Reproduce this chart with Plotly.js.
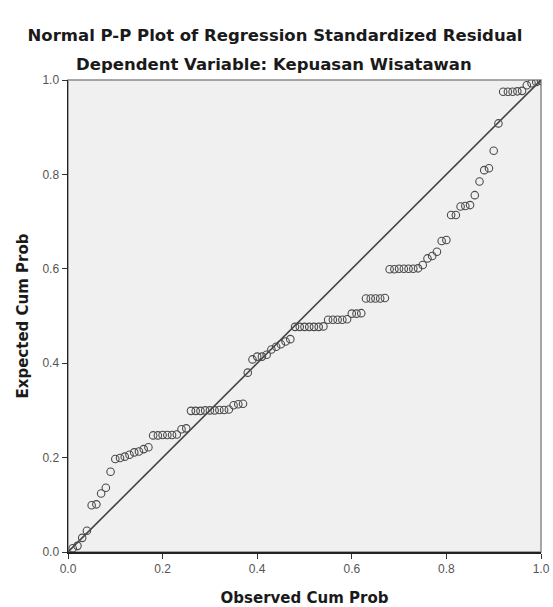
<!DOCTYPE html>
<html>
<head>
<meta charset="utf-8">
<script src="https://cdn.plot.ly/plotly-3.0.1.min.js"></script>
<style>
  html, body { margin: 0; padding: 0; background: #ffffff; }
  #chart { width: 553px; height: 607px; }
</style>
</head>
<body>
<div id="chart"></div>
<script>
// Observed cumulative probability (x)
const observedCumProb = [
  0.01, 0.02, 0.03, 0.04, 0.05, 0.06, 0.07, 0.08, 0.09, 0.10,
  0.11, 0.12, 0.13, 0.14, 0.15, 0.16, 0.17, 0.18, 0.19, 0.20,
  0.21, 0.22, 0.23, 0.24, 0.25, 0.26, 0.27, 0.28, 0.29, 0.30,
  0.31, 0.32, 0.33, 0.34, 0.35, 0.36, 0.37, 0.38, 0.39, 0.40,
  0.41, 0.42, 0.43, 0.44, 0.45, 0.46, 0.47, 0.48, 0.49, 0.50,
  0.51, 0.52, 0.53, 0.54, 0.55, 0.56, 0.57, 0.58, 0.59, 0.60,
  0.61, 0.62, 0.63, 0.64, 0.65, 0.66, 0.67, 0.68, 0.69, 0.70,
  0.71, 0.72, 0.73, 0.74, 0.75, 0.76, 0.77, 0.78, 0.79, 0.80,
  0.81, 0.82, 0.83, 0.84, 0.85, 0.86, 0.87, 0.88, 0.89, 0.90,
  0.91, 0.92, 0.93, 0.94, 0.95, 0.96, 0.97, 0.98, 0.99, 1.00
];
// Expected cumulative probability (y)
const expectedCumProb = [
  0.008, 0.013, 0.030, 0.045, 0.099, 0.101, 0.124, 0.136, 0.170, 0.197,
  0.199, 0.202, 0.206, 0.211, 0.213, 0.218, 0.222, 0.247, 0.247, 0.248,
  0.248, 0.248, 0.249, 0.260, 0.262, 0.299, 0.299, 0.299, 0.300, 0.300,
  0.300, 0.301, 0.301, 0.302, 0.311, 0.313, 0.314, 0.380, 0.408, 0.414,
  0.414, 0.418, 0.429, 0.435, 0.440, 0.446, 0.451, 0.477, 0.477, 0.477,
  0.477, 0.477, 0.477, 0.478, 0.492, 0.492, 0.492, 0.492, 0.493, 0.505,
  0.505, 0.506, 0.537, 0.537, 0.537, 0.537, 0.538, 0.599, 0.599, 0.600,
  0.600, 0.600, 0.600, 0.601, 0.608, 0.622, 0.627, 0.636, 0.659, 0.661,
  0.714, 0.714, 0.732, 0.733, 0.735, 0.756, 0.785, 0.809, 0.813, 0.850,
  0.908, 0.975, 0.975, 0.975, 0.976, 0.977, 0.989, 0.993, 0.996, 0.998
];
// Reference diagonal
const refLineX = [0, 1];
const refLineY = [0, 1];
const tickValues = [0, 0.2, 0.4, 0.6, 0.8, 1.0];
const tickLabels = ["0.0", "0.2", "0.4", "0.6", "0.8", "1.0"];

const titleMain = "Normal P-P Plot of Regression Standardized Residual";
const titleSub = "Dependent Variable: Kepuasan Wisatawan";
const xTitle = "Observed Cum Prob";
const yTitle = "Expected Cum Prob";

const FONT = "Liberation Sans, Arial, sans-serif";
const TFONT = "DejaVu Sans, Liberation Sans, sans-serif";

const traces = [
  {
    x: refLineX, y: refLineY, type: "scatter", mode: "lines",
    line: { color: "#444444", width: 1.6 }, hoverinfo: "skip", showlegend: false
  },
  {
    x: observedCumProb, y: expectedCumProb, type: "scatter", mode: "markers",
    marker: { symbol: "circle-open", size: 7.5, color: "#4a4a4a", line: { width: 1.1, color: "#4a4a4a" } },
    showlegend: false
  }
];

const axisCommon = {
  range: [0, 1],
  tickvals: tickValues,
  ticktext: tickLabels,
  ticks: "outside",
  ticklen: 5,
  tickwidth: 1,
  tickcolor: "#333333",
  showline: true,
  linecolor: "#222222",
  linewidth: 1.5,
  showgrid: false,
  zeroline: false,
  tickfont: { family: FONT, size: 12, color: "#555555" },
  fixedrange: true
};

const layout = {
  width: 553,
  height: 607,
  margin: { l: 68, r: 12, t: 80, b: 55 },
  paper_bgcolor: "#ffffff",
  plot_bgcolor: "#f0f0f0",
  title: {
    text: titleMain,
    font: { family: TFONT, size: 16.5, color: "#1a1a1a", weight: "bold" },
    x: 275 / 553, xanchor: "center", xref: "container",
    y: 1 - 35 / 607, yanchor: "middle", yref: "container"
  },
  annotations: [
    {
      text: titleSub, xref: "paper", yref: "paper",
      x: (274 - 68) / 473, y: (552 - 65) / 472,
      xanchor: "center", yanchor: "middle", showarrow: false,
      font: { family: TFONT, size: 16.5, color: "#1a1a1a", weight: "bold" }
    }
  ],
  xaxis: Object.assign({}, axisCommon, {
    title: { text: xTitle, font: { family: TFONT, size: 15, color: "#1a1a1a", weight: "bold" }, standoff: 18 }
  }),
  yaxis: Object.assign({}, axisCommon, {
    title: { text: yTitle, font: { family: TFONT, size: 15, color: "#1a1a1a", weight: "bold" }, standoff: 10 }
  }),
  shapes: [
    {
      type: "rect", xref: "paper", yref: "paper", x0: 0, y0: 0, x1: 1, y1: 1,
      line: { color: "#8a8a8a", width: 1.5 }, fillcolor: "rgba(0,0,0,0)", layer: "below"
    }
  ]
};

Plotly.newPlot("chart", traces, layout, { displayModeBar: false, staticPlot: true });
</script>
</body>
</html>
